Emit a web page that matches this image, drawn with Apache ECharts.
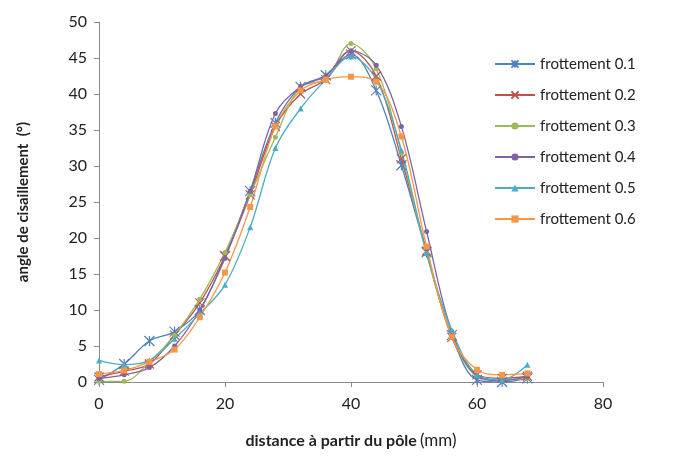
<!DOCTYPE html>
<html>
<head>
<meta charset="utf-8">
<script src="https://cdn.jsdelivr.net/npm/echarts@6/dist/echarts.min.js"></script>
<style>
  html, body { margin: 0; padding: 0; background: #fff; }
  #chart { width: 696px; height: 459px; }
</style>
</head>
<body>
<div id="chart"></div>
<script>
// distance from the pole (mm)
const distances = [0, 4, 8, 12, 16, 20, 24, 28, 32, 36, 40, 44, 48, 52, 56, 60, 64, 68]

const seriesNames = ['frottement 0.1', 'frottement 0.2', 'frottement 0.3', 'frottement 0.4', 'frottement 0.5', 'frottement 0.6']

// shear angle (deg)
const frott01 = [0.3, 2.5, 5.7, 7.0, 10.0, 17.5, 26.5, 36.0, 41.0, 42.6, 45.5, 40.5, 30.1, 18.0, 6.5, 0.3, 0.0, 0.5]
const frott02 = [0.7, 1.5, 2.5, 6.5, 11.0, 17.5, 26.0, 35.5, 40.0, 42.0, 46.0, 42.5, 31.0, 18.2, 6.2, 1.0, 0.5, 0.8]
const frott03 = [0.1, 0.1, 2.8, 6.5, 11.5, 18.0, 26.0, 34.0, 41.0, 42.0, 47.0, 43.5, 31.8, 17.8, 6.5, 0.8, 0.3, 0.5]
const frott04 = [0.5, 1.0, 2.0, 5.0, 10.0, 17.2, 26.5, 37.3, 41.0, 42.5, 46.0, 44.0, 35.5, 20.9, 7.0, 0.8, 0.2, 0.7]
const frott05 = [3.0, 2.4, 3.0, 6.0, 9.5, 13.5, 21.5, 32.5, 38.0, 42.0, 45.2, 42.0, 32.2, 17.9, 7.2, 1.0, 0.3, 2.4]
const frott06 = [1.1, 1.6, 2.8, 4.5, 9.0, 15.2, 24.3, 35.5, 40.5, 42.0, 42.4, 41.7, 34.1, 18.8, 6.3, 1.7, 1.0, 1.2]

const colors = ['#4F81BD', '#C0504D', '#9BBB59', '#8064A2', '#4BACC6', '#F79646']

const chart = echarts.init(document.getElementById('chart'))

const asterisk = 'path://M5 0L5 10M0 0L10 10M10 0L0 10'
const cross = 'path://M0 0L10 10M10 0L0 10'

function pairs(values) {
  return distances.map((d, i) => [d, values[i]])
}

function lineSeries(name, values, color, symbol, size, hollow) {
  return {
    name,
    type: 'line',
    smooth: 0.35,
    data: pairs(values),
    symbol,
    symbolSize: size,
    lineStyle: { color, width: 1.3 },
    itemStyle: hollow
      ? { color: 'rgba(0,0,0,0)', borderColor: color, borderWidth: 1.2 }
      : { color, borderWidth: 0 },
    emphasis: { disabled: true }
  }
}

const font = 'Lato, "Open Sans", sans-serif'

const option = {
  animation: false,
  textStyle: { fontFamily: font },
  grid: { left: 99, right: 93, top: 22, bottom: 77 },
  legend: {
    orient: 'vertical',
    left: 489,
    top: 50,
    itemGap: 13,
    itemWidth: 40,
    itemHeight: 9,
    textStyle: { fontSize: 15, color: '#222', fontFamily: font, lineHeight: 18 },
    data: seriesNames
  },
  xAxis: {
    type: 'value',
    min: 0,
    max: 80,
    interval: 20,
    name: '{b|distance à partir du pôle} {n|(mm)}',
    nameLocation: 'middle',
    nameGap: 50,
    nameTextStyle: {
      rich: {
        b: { fontSize: 16, fontWeight: 'bold', color: '#222', fontFamily: font },
        n: { fontSize: 17, color: '#222', fontFamily: font }
      }
    },
    axisLine: { lineStyle: { color: '#8a8a8a', width: 1 } },
    axisTick: { show: true, length: 5, lineStyle: { color: '#8a8a8a' } },
    axisLabel: { fontSize: 16, color: '#222', margin: 14 },
    splitLine: { show: false }
  },
  yAxis: {
    type: 'value',
    min: 0,
    max: 50,
    interval: 5,
    name: 'angle de cisaillement  (°)',
    nameLocation: 'middle',
    nameRotate: 90,
    nameGap: 68,
    nameTextStyle: { fontSize: 15, fontWeight: 'bold', color: '#222' },
    axisLine: { show: true, lineStyle: { color: '#8a8a8a', width: 1 } },
    axisTick: { show: true, length: 5, lineStyle: { color: '#8a8a8a' } },
    axisLabel: { fontSize: 16, color: '#222', margin: 12 },
    splitLine: { show: false }
  },
  series: [
    lineSeries(seriesNames[0], frott01, colors[0], asterisk, 10, true),
    lineSeries(seriesNames[1], frott02, colors[1], cross, 9, true),
    lineSeries(seriesNames[2], frott03, colors[2], 'circle', 5, false),
    lineSeries(seriesNames[3], frott04, colors[3], 'circle', 5, false),
    lineSeries(seriesNames[4], frott05, colors[4], 'triangle', 6, false),
    lineSeries(seriesNames[5], frott06, colors[5], 'rect', 6, false)
  ]
}

chart.setOption(option)
</script>
</body>
</html>
